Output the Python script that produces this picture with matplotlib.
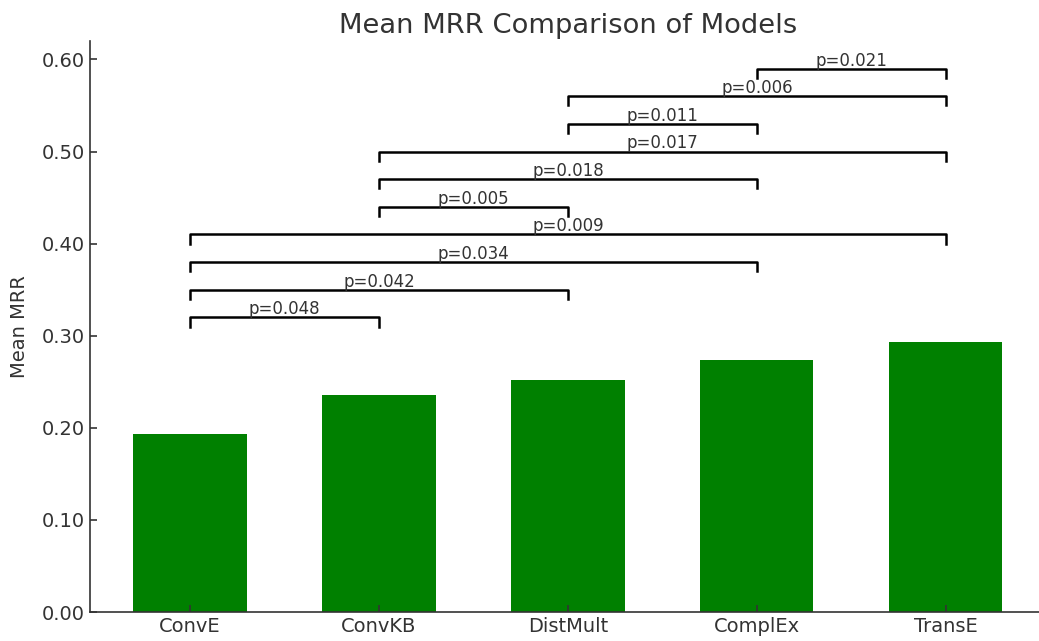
import matplotlib
matplotlib.use("Agg")
import matplotlib.pyplot as plt

models = ["ConvE", "ConvKB", "DistMult", "ComplEx", "TransE"]
mean_mrr = [0.193, 0.236, 0.252, 0.274, 0.293]

# pairwise comparisons: (left index, right index, bracket height, p-value)
pair_left = [0, 0, 0, 0, 1, 1, 1, 2, 2, 3]
pair_right = [1, 2, 3, 4, 2, 3, 4, 3, 4, 4]
pair_height = [0.32, 0.35, 0.38, 0.41, 0.44, 0.47, 0.50, 0.53, 0.56, 0.59]
pair_p = ["0.048", "0.042", "0.034", "0.009", "0.005",
          "0.018", "0.017", "0.011", "0.006", "0.021"]

TXT = "#333333"
plt.rcParams.update({
    "font.family": "DejaVu Sans",
    "text.color": TXT,
    "axes.labelcolor": TXT,
    "xtick.color": TXT,
    "ytick.color": TXT,
    "axes.edgecolor": TXT,
})

fig = plt.figure(figsize=(10.39, 6.41), dpi=100)
# axes runs slightly past the right edge of the picture, like the reference
ax = fig.add_axes([0.0866, 0.0452, 0.920, 0.8908])

x = list(range(len(models)))
ax.bar(x, mean_mrr, width=0.6, color="green")

for l, r, h, p in zip(pair_left, pair_right, pair_height, pair_p):
    ax.plot([l, l, r, r], [h - 0.01, h, h, h - 0.01], color="black", lw=1.8)
    ax.text((l + r) / 2, h - 0.001, f"p={p}", ha="center", va="bottom",
            fontsize=12, color=TXT)

ax.set_xticks(x)
ax.set_xticklabels(models)
ax.set_ylim(0, 0.62)
ax.set_yticks([0, 0.1, 0.2, 0.3, 0.4, 0.5, 0.6])
ax.set_yticklabels([f"{v:.2f}" for v in [0, 0.1, 0.2, 0.3, 0.4, 0.5, 0.6]])
ax.tick_params(direction="in", labelsize=14, length=5, width=1.2)
ax.set_ylabel("Mean MRR", fontsize=14, labelpad=9)
ax.set_title("Mean MRR Comparison of Models", fontsize=19.7, color=TXT)
ax.spines["top"].set_visible(False)
ax.spines["right"].set_visible(False)
ax.spines["left"].set_linewidth(1.2)
ax.spines["bottom"].set_linewidth(1.2)

fig.savefig("out.png", dpi=100, facecolor="white")
